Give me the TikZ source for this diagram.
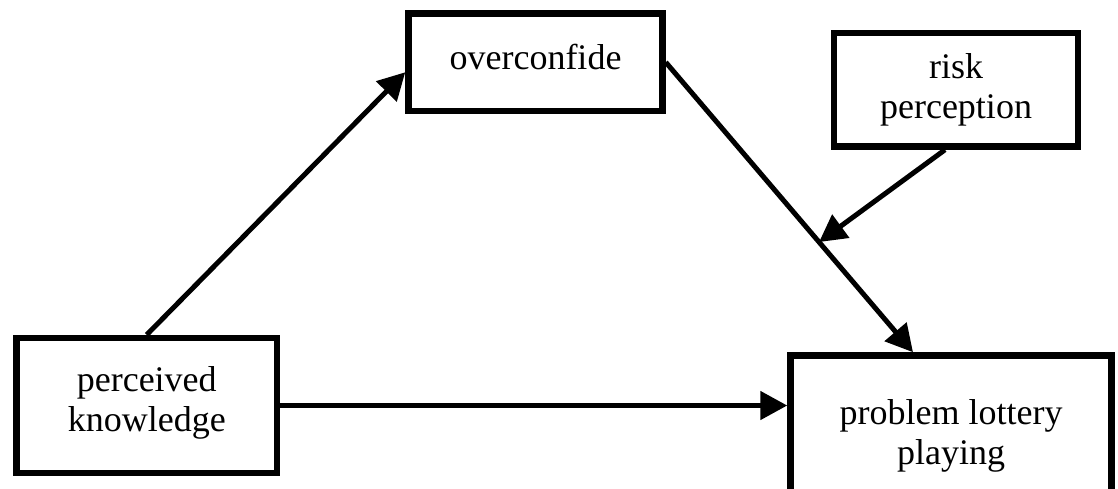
\documentclass[tikz,border=0pt]{standalone}
\usepackage{fontspec}
\setmainfont{Liberation Serif}
\usetikzlibrary{arrows.meta,calc}
\begin{document}
\begin{tikzpicture}[x=1pt,y=-1pt,
  box/.style={draw=black,line width=6.5pt,rectangle,inner sep=0pt,align=center,
    font=\fontsize{36}{40}\selectfont},
  link/.style={line width=5pt,-{Triangle[length=27pt,width=28pt]}}]
\useasboundingbox[fill=white] (0,0) rectangle (1118,488);
\begin{scope}
\clip (0,0) rectangle (1118,488);
\node[box,minimum width=254pt,minimum height=97.5pt,text depth=10pt] (oc) at (535.5,62.25) {overconfide};
\node[box,minimum width=244pt,minimum height=113.5pt] (rp) at (956,89.75) {risk\\perception};
\node[box,minimum width=260.5pt,minimum height=135pt,text depth=13.8pt] (pk) at (146.75,405.5) {perceived\\knowledge};
\node[box,minimum width=321pt,minimum height=161.5pt] (pl) at (951,436.25) {problem lottery\\playing};
\coordinate (oct) at ([yshift=-10pt]oc.west);
\coordinate (plt) at ([xshift=-38pt]pl.north);
\coordinate (rps) at ([xshift=-11pt]rp.south);
\coordinate (mid) at ($(oc.east)!0.62!(plt)$);
\draw[link] (pk.north) -- (oct);
\draw[link] (oc.east) -- (plt);
\draw[link] (rps) -- (mid);
\draw[link] (pk.east) -- (pk.east -| pl.west);
\end{scope}
\end{tikzpicture}
\end{document}
